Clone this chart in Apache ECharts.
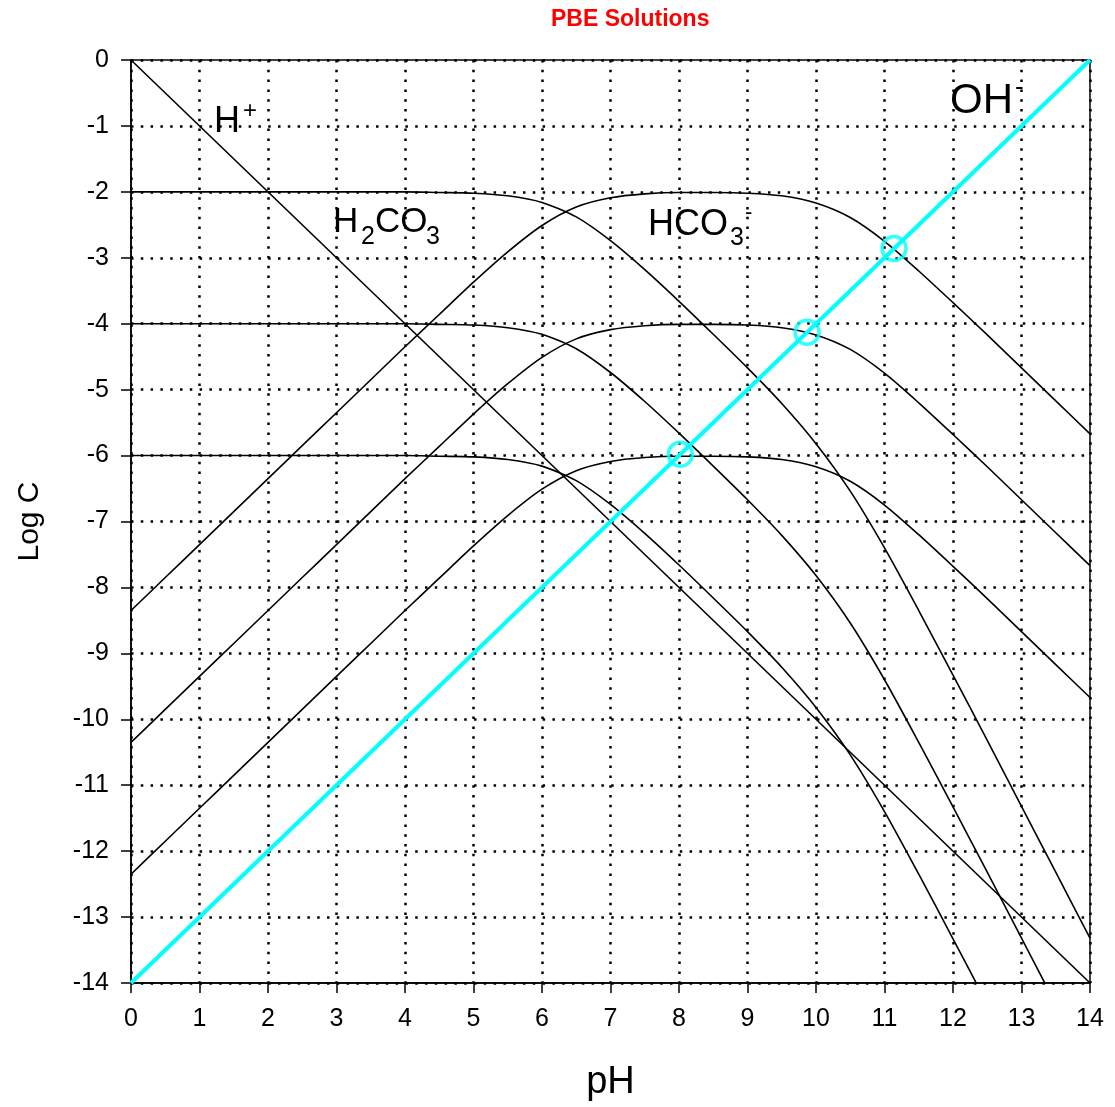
<!DOCTYPE html>
<html>
<head>
<meta charset="utf-8">
<title>PBE Solutions</title>
<script src="https://cdn.jsdelivr.net/npm/echarts@6/dist/echarts.min.js"></script>
<style>
  html, body { margin: 0; padding: 0; background: #fff; }
  #main { width: 1115px; height: 1107px; }
</style>
</head>
<body>
<div id="main"></div>
<script>
  // pH grid the curves were read on
  const pH = [0, 0.5, 1, 1.5, 2, 2.5, 3, 3.5, 4, 4.5, 5, 5.5, 6, 6.5, 7, 7.5, 8, 8.5, 9, 9.5, 10, 10.5, 11, 11.5, 12, 12.5, 13, 13.5, 14];

  // H2CO3 for CT = 1e-2, 1e-4, 1e-6
  const h2co3_2 = [-2, -2, -2, -2, -2, -2, -2, -2, -2, -2.01, -2.02, -2.06, -2.16, -2.38, -2.74, -3.18, -3.66, -4.16, -4.67, -5.21, -5.82, -6.54, -7.40, -8.35, -9.33, -10.32, -11.32, -12.32, -13.32];
  const h2co3_4 = [-4, -4, -4, -4, -4, -4, -4, -4, -4, -4.01, -4.02, -4.06, -4.16, -4.38, -4.74, -5.18, -5.66, -6.16, -6.67, -7.21, -7.82, -8.54, -9.40, -10.35, -11.33, -12.32, -13.32, -14.32, -15.32];
  const h2co3_6 = [-6, -6, -6, -6, -6, -6, -6, -6, -6, -6.01, -6.02, -6.06, -6.16, -6.38, -6.74, -7.18, -7.66, -8.16, -8.67, -9.21, -9.82, -10.54, -11.40, -12.35, -13.33, -14.32, -15.32, -16.32, -17.32];

  // HCO3- for CT = 1e-2, 1e-4, 1e-6
  const hco3_2 = [-8.35, -7.85, -7.35, -6.85, -6.35, -5.85, -5.35, -4.85, -4.35, -3.86, -3.37, -2.91, -2.51, -2.23, -2.09, -2.03, -2.01, -2.01, -2.02, -2.06, -2.17, -2.39, -2.75, -3.20, -3.68, -4.17, -4.67, -5.17, -5.67];
  const hco3_4 = [-10.35, -9.85, -9.35, -8.85, -8.35, -7.85, -7.35, -6.85, -6.35, -5.86, -5.37, -4.91, -4.51, -4.23, -4.09, -4.03, -4.01, -4.01, -4.02, -4.06, -4.17, -4.39, -4.75, -5.20, -5.68, -6.17, -6.67, -7.17, -7.67];
  const hco3_6 = [-12.35, -11.85, -11.35, -10.85, -10.35, -9.85, -9.35, -8.85, -8.35, -7.86, -7.37, -6.91, -6.51, -6.23, -6.09, -6.03, -6.01, -6.01, -6.02, -6.06, -6.17, -6.39, -6.75, -7.20, -7.68, -8.17, -8.67, -9.17, -9.67];

  // straight lines
  const phEnds = [0, 14];
  const hIon = [0, -14];
  const ohIon = [-14, 0];

  // PBE solutions (OH- = HCO3-)
  const pbePH = [8.02, 9.87, 11.14];
  const pbeLogC = [-5.98, -4.13, -2.86];

  const FONT = '"Liberation Sans", Arial, Helvetica, sans-serif';

  function pairs(xs, ys) {
    return xs.map((x, i) => [x, ys[i]]);
  }

  function curve(ys) {
    return {
      type: 'line',
      data: pairs(pH, ys),
      showSymbol: false,
      symbol: 'none',
      smooth: 0.25,
      lineStyle: { color: '#000', width: 1.6 },
      z: 2
    };
  }

  function txt(x, y, text, size) {
    return {
      type: 'text',
      x: x,
      y: y,
      z: 10,
      style: {
        text: text,
        font: size + 'px ' + FONT,
        fill: '#000',
        textAlign: 'left',
        textVerticalAlign: 'middle'
      }
    };
  }

  const chartDom = document.getElementById('main');
  const myChart = echarts.init(chartDom);

  const axisCommon = {
    type: 'value',
    interval: 1,
    nameLocation: 'middle',
    axisLine: { show: true, onZero: false, lineStyle: { color: '#000', width: 1.5 } },
    axisTick: { show: true, length: 10, lineStyle: { color: '#000', width: 1.5 } },
    splitLine: { show: true, lineStyle: { color: '#000', width: 2.5, type: [2.5, 7.3] } }
  };

  const option = {
    animation: false,
    backgroundColor: '#fff',
    title: {
      text: 'PBE Solutions',
      left: 551,
      top: 8,
      padding: 0,
      textStyle: { color: '#ff0000', fontSize: 23, fontWeight: 'bold', fontFamily: FONT }
    },
    grid: {
      left: 131, right: 25, top: 60, bottom: 124,
      show: true, borderColor: '#000', borderWidth: 1.5
    },
    xAxis: Object.assign({}, axisCommon, {
      min: 0, max: 14,
      name: 'pH',
      nameGap: 81,
      nameTextStyle: { color: '#000', fontFamily: FONT, fontSize: 38 },
      axisLabel: { color: '#000', fontSize: 25, fontFamily: FONT, margin: 24 }
    }),
    yAxis: Object.assign({}, axisCommon, {
      min: -14, max: 0,
      name: 'Log C',
      nameGap: 86,
      nameTextStyle: { color: '#000', fontFamily: FONT, fontSize: 30 },
      axisLabel: { color: '#000', fontSize: 25, fontFamily: FONT, margin: 22 }
    }),
    series: [
      curve(h2co3_2), curve(h2co3_4), curve(h2co3_6),
      curve(hco3_2), curve(hco3_4), curve(hco3_6),
      {
        type: 'line', data: pairs(phEnds, hIon), symbol: 'none',
        lineStyle: { color: '#000', width: 1.6 }, z: 2
      },
      {
        type: 'line', data: pairs(phEnds, ohIon), symbol: 'none',
        lineStyle: { color: '#00ffff', width: 4 }, z: 3
      },
      {
        type: 'scatter', data: pairs(pbePH, pbeLogC),
        symbol: 'circle', symbolSize: 24,
        itemStyle: { color: 'transparent', borderColor: '#00ffff', borderWidth: 3.5 },
        z: 4
      }
    ],
    graphic: [
      txt(214, 122, 'H', 36), txt(243, 111, '+', 24),
      txt(333, 222, 'H', 35), txt(361, 237, '2', 25), txt(375, 222, 'CO', 35), txt(426, 237, '3', 25),
      txt(648, 225, 'HCO', 36), txt(730, 238, '3', 25), txt(745, 213, '-', 22),
      txt(950, 101, 'OH', 42), txt(1015, 88, '-', 26)
    ]
  };

  option && myChart.setOption(option);

  window.addEventListener('resize', () => {
    myChart.resize();
  });
</script>
</body>
</html>
